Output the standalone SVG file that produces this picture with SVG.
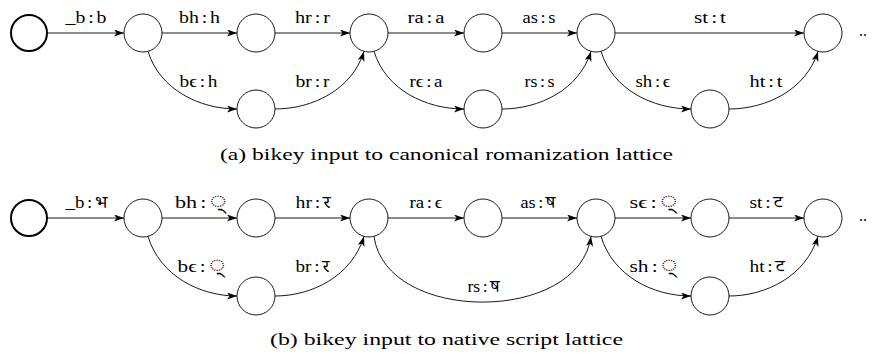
<svg xmlns="http://www.w3.org/2000/svg" width="872" height="362" viewBox="0 0 872 362">
  <style>
    .st { fill: #fff; stroke: #000; stroke-width: 0.9; }
    .start { fill: #fff; stroke: #000; stroke-width: 2; }
    .e { fill: none; stroke: #000; stroke-width: 0.9; marker-end: url(#arr); }
    text { font-family: "Liberation Serif", "Times New Roman", serif; fill: #000; }
    .dv { font-family: "Noto Serif Devanagari", "Noto Sans Devanagari", "Lohit Devanagari", "FreeSerif", serif; }
    .vr { font-size: 23px; }
    .lb { font-size: 17.5px; text-anchor: middle; }
    .cap { font-size: 17.5px; text-anchor: middle; }
    .dots { font-size: 16px; }
  </style>
  <defs>
    <marker id="arr" markerUnits="userSpaceOnUse" markerWidth="11" markerHeight="8" refX="10" refY="3.5" orient="auto">
      <path d="M0,0 L10,3.5 L0,7 L2.6,3.5 Z" fill="#000"/>
    </marker>
  </defs>

  <!-- (a) canonical romanization lattice -->
  <g id="a-nodes">
    <g id="a-n0"><circle class="start" cx="29" cy="33" r="18"/></g>
    <g id="a-n1"><circle class="st" cx="143" cy="33" r="19"/></g>
    <g id="a-n2"><circle class="st" cx="256" cy="33" r="19"/></g>
    <g id="a-n3"><circle class="st" cx="369" cy="33" r="19"/></g>
    <g id="a-n4"><circle class="st" cx="483" cy="33" r="19"/></g>
    <g id="a-n5"><circle class="st" cx="596" cy="33" r="19"/></g>
    <g id="a-n6"><circle class="st" cx="823" cy="33" r="19"/></g>
    <g id="a-m1"><circle class="st" cx="256" cy="109" r="19"/></g>
    <g id="a-m2"><circle class="st" cx="483" cy="109" r="19"/></g>
    <g id="a-m3"><circle class="st" cx="710" cy="109" r="19"/></g>
  </g>
  <g id="a-edges">
    <path class="e" d="M48,33 H124"/>
    <path class="e" d="M162,33 H237"/>
    <path class="e" d="M275,33 H350"/>
    <path class="e" d="M388,33 H464"/>
    <path class="e" d="M502,33 H577"/>
    <path class="e" d="M615,33 H804"/>
    <path class="e" d="M148,51.4 C160,90 200,109 237,109"/>
    <path class="e" d="M275,109 C312,109 352,90 364,51.4"/>
    <path class="e" d="M374,51.4 C386,90 426,109 464,109"/>
    <path class="e" d="M502,109 C539,109 579,90 591,51.4"/>
    <path class="e" d="M601,51.4 C613,90 653,109 691,109"/>
    <path class="e" d="M729,109 C766,109 806,90 818,51.4"/>
  </g>
  <g id="a-labels">
    <text class="lb" x="86" y="23" textLength="41" lengthAdjust="spacingAndGlyphs">_b<tspan dx="2.5">:</tspan><tspan dx="2.5">b</tspan></text>
    <text class="lb" x="199.5" y="23" textLength="41" lengthAdjust="spacingAndGlyphs">bh<tspan dx="2.5">:</tspan><tspan dx="2.5">h</tspan></text>
    <text class="lb" x="312.5" y="23" textLength="35" lengthAdjust="spacingAndGlyphs">hr<tspan dx="2.5">:</tspan><tspan dx="2.5">r</tspan></text>
    <text class="lb" x="426" y="23" textLength="37" lengthAdjust="spacingAndGlyphs">ra<tspan dx="2.5">:</tspan><tspan dx="2.5">a</tspan></text>
    <text class="lb" x="539" y="23" textLength="33" lengthAdjust="spacingAndGlyphs">as<tspan dx="2.5">:</tspan><tspan dx="2.5">s</tspan></text>
    <text class="lb" x="710" y="23" textLength="32" lengthAdjust="spacingAndGlyphs">st<tspan dx="2.5">:</tspan><tspan dx="2.5">t</tspan></text>
    <text class="lb" x="198.5" y="87" textLength="38" lengthAdjust="spacingAndGlyphs">bϵ<tspan dx="2.5">:</tspan><tspan dx="2.5">h</tspan></text>
    <text class="lb" x="312.5" y="87" textLength="34" lengthAdjust="spacingAndGlyphs">br<tspan dx="2.5">:</tspan><tspan dx="2.5">r</tspan></text>
    <text class="lb" x="426" y="87" textLength="33" lengthAdjust="spacingAndGlyphs">rϵ<tspan dx="2.5">:</tspan><tspan dx="2.5">a</tspan></text>
    <text class="lb" x="539.5" y="87" textLength="30" lengthAdjust="spacingAndGlyphs">rs<tspan dx="2.5">:</tspan><tspan dx="2.5">s</tspan></text>
    <text class="lb" x="653" y="87" textLength="35" lengthAdjust="spacingAndGlyphs">sh<tspan dx="2.5">:</tspan><tspan dx="2.5">ϵ</tspan></text>
    <text class="lb" x="766" y="87" textLength="33" lengthAdjust="spacingAndGlyphs">ht<tspan dx="2.5">:</tspan><tspan dx="2.5">t</tspan></text>
    <text class="dots" x="859" y="36">..</text>
  </g>
  <text class="cap" x="446.5" y="160" textLength="453" lengthAdjust="spacingAndGlyphs">(a) bikey input to canonical romanization lattice</text>

  <!-- (b) native script lattice -->
  <g id="b-nodes">
    <g id="b-n0"><circle class="start" cx="29" cy="218" r="18"/></g>
    <g id="b-n1"><circle class="st" cx="143" cy="218" r="19"/></g>
    <g id="b-n2"><circle class="st" cx="256" cy="218" r="19"/></g>
    <g id="b-n3"><circle class="st" cx="369" cy="218" r="19"/></g>
    <g id="b-n4"><circle class="st" cx="483" cy="218" r="19"/></g>
    <g id="b-n5"><circle class="st" cx="596" cy="218" r="19"/></g>
    <g id="b-n6"><circle class="st" cx="710" cy="218" r="19"/></g>
    <g id="b-n7"><circle class="st" cx="823" cy="218" r="19"/></g>
    <g id="b-m1"><circle class="st" cx="256" cy="296" r="19"/></g>
    <g id="b-m3"><circle class="st" cx="710" cy="296" r="19"/></g>
  </g>
  <g id="b-edges">
    <path class="e" d="M48,218 H124"/>
    <path class="e" d="M162,218 H237"/>
    <path class="e" d="M275,218 H350"/>
    <path class="e" d="M388,218 H464"/>
    <path class="e" d="M502,218 H577"/>
    <path class="e" d="M615,218 H691"/>
    <path class="e" d="M729,218 H804"/>
    <path class="e" d="M148,236.4 C160,276 200,296 237,296"/>
    <path class="e" d="M275,296 C312,296 352,276 364,236.4"/>
    <path class="e" d="M374,236.4 C386,324 579,324 591,236.4"/>
    <path class="e" d="M601,236.4 C613,276 653,296 691,296"/>
    <path class="e" d="M729,296 C766,296 806,276 818,236.4"/>
  </g>
  <g id="b-labels">
    <text class="lb" x="86.5" y="208" textLength="42" lengthAdjust="spacingAndGlyphs">_b<tspan dx="2.5">:</tspan><tspan class="dv" dx="2.5">भ</tspan></text>
    <text class="lb" x="201" y="208" textLength="52" lengthAdjust="spacingAndGlyphs">bh<tspan dx="2.5">:</tspan><tspan class="dv vr" dx="2.5">्</tspan></text>
    <text class="lb" x="313" y="208" textLength="35" lengthAdjust="spacingAndGlyphs">hr<tspan dx="2.5">:</tspan><tspan class="dv" dx="2.5">र</tspan></text>
    <text class="lb" x="426" y="208" textLength="33" lengthAdjust="spacingAndGlyphs">ra<tspan dx="2.5">:</tspan><tspan dx="2.5">ϵ</tspan></text>
    <text class="lb" x="538" y="208" textLength="35" lengthAdjust="spacingAndGlyphs">as<tspan dx="2.5">:</tspan><tspan class="dv" dx="2.5">ष</tspan></text>
    <text class="lb" x="653.5" y="208" textLength="48" lengthAdjust="spacingAndGlyphs">sϵ<tspan dx="2.5">:</tspan><tspan class="dv vr" dx="2.5">्</tspan></text>
    <text class="lb" x="766" y="208" textLength="33" lengthAdjust="spacingAndGlyphs">st<tspan dx="2.5">:</tspan><tspan class="dv" dx="2.5">ट</tspan></text>
    <text class="lb" x="201.5" y="272" textLength="48" lengthAdjust="spacingAndGlyphs">bϵ<tspan dx="2.5">:</tspan><tspan class="dv vr" dx="2.5">्</tspan></text>
    <text class="lb" x="312.5" y="272" textLength="34" lengthAdjust="spacingAndGlyphs">br<tspan dx="2.5">:</tspan><tspan class="dv" dx="2.5">र</tspan></text>
    <text class="lb" x="483.5" y="292" textLength="32" lengthAdjust="spacingAndGlyphs">rs<tspan dx="2.5">:</tspan><tspan class="dv" dx="2.5">ष</tspan></text>
    <text class="lb" x="653.5" y="272" textLength="48" lengthAdjust="spacingAndGlyphs">sh<tspan dx="2.5">:</tspan><tspan class="dv vr" dx="2.5">्</tspan></text>
    <text class="lb" x="767" y="272" textLength="35" lengthAdjust="spacingAndGlyphs">ht<tspan dx="2.5">:</tspan><tspan class="dv" dx="2.5">ट</tspan></text>
    <text class="dots" x="859" y="221">..</text>
  </g>
  <text class="cap" x="446.5" y="345" textLength="353" lengthAdjust="spacingAndGlyphs">(b) bikey input to native script lattice</text>
</svg>
